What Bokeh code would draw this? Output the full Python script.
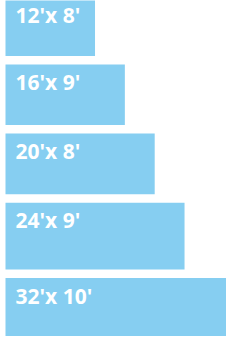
from bokeh.plotting import figure
from bokeh.models import Range1d, ColumnDataSource
from bokeh.core.properties import value
from bokeh.embed import file_html
from bokeh.resources import INLINE

# ---- data ----
labels = ["12'x 8'", "16'x 9'", "20'x 8'", "24'x 9'", "32'x 10'"]
length_ft = [12, 16, 20, 24, 32]
width_ft = [8, 9, 8, 9, 10]

# ---- layout (screen pixel units) ----
W, H = 226, 336
px_per_ft = 7.46
left_pad = 5.0
row_heights = [61.7, 60.6, 60.7, 66.7, 80.0]
gap = 8.5
first_top = -6.2
tops = []
t = first_top
for h in row_heights:
    tops.append(t)
    t += h + gap
bottoms = [tp + h for tp, h in zip(tops, row_heights)]
text_tops = [max(tp + 3.5, 0.5) for tp in tops]

src = ColumnDataSource(dict(
    left=[0] * len(length_ft), right=length_ft,
    top=tops, bottom=bottoms, label=labels, ty=text_tops,
))

p = figure(width=W, height=H, output_backend="svg", toolbar_location=None,
           x_range=Range1d(-left_pad / px_per_ft, (W - left_pad) / px_per_ft),
           y_range=Range1d(H, 0), min_border=0)
p.axis.visible = False
p.grid.visible = False
p.outline_line_color = None
p.background_fill_color = "white"
p.border_fill_color = "white"

p.quad(left="left", right="right", top="top", bottom="bottom", source=src,
       fill_color="#86CEF1", line_color=None)
p.text(x=0, y="ty", text="label", source=src, x_offset=10,
       text_color="white", text_font=value("Open Sans"), text_font_style="bold",
       text_font_size="21px", text_baseline="top", text_align="left")

open("out.html", "w").write(file_html(p, INLINE))
